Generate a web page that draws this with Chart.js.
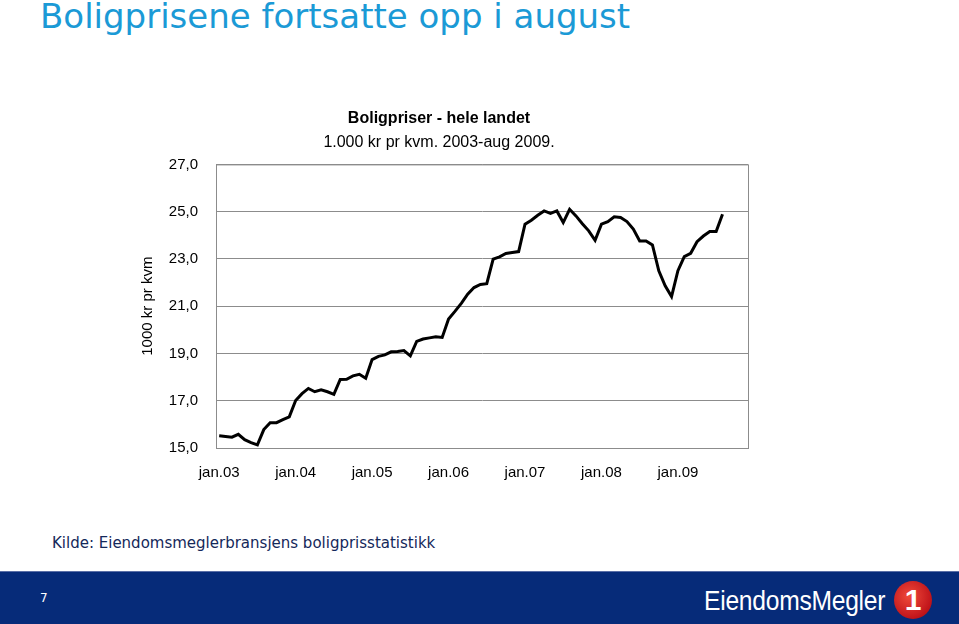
<!DOCTYPE html>
<html>
<head>
<meta charset="utf-8">
<script src="https://cdn.jsdelivr.net/npm/chart.js@4.4.1/dist/chart.umd.min.js"></script>
<style>
  html, body { margin: 0; padding: 0; background: #fff; }
  body { width: 959px; height: 624px; position: relative; overflow: hidden; }
  #heading {
    position: absolute; left: 40px; top: -4px;
    font-family: "DejaVu Sans", sans-serif; font-size: 34px; color: #1b9ad6;
  }
  #wrap { position: absolute; left: 130px; top: 100px; }
  #kilde {
    position: absolute; left: 52px; top: 534px;
    font-family: "DejaVu Sans", sans-serif; font-size: 15px; color: #14285a;
  }
  #footer {
    position: absolute; left: 0; top: 571px; width: 959px; height: 53px;
    background: #062b79; border-top: 1px solid #5a6fa6;
  }
  #pagenr {
    position: absolute; left: 40px; top: 19px;
    font-family: "DejaVu Sans", sans-serif; font-size: 12px; color: #fff;
  }
  #logo {
    position: absolute; left: 704px; top: 13px;
    font-family: "Liberation Sans", sans-serif;
    font-size: 28px; color: #fff; letter-spacing: -0.3px;
    transform: scaleX(0.88); transform-origin: left center;
  }
  #one {
    position: absolute; left: 894px; top: 9px; width: 38px; height: 38px;
    border-radius: 50%; background: radial-gradient(circle at 40% 40%, #f04a3a, #c0141a 70%, #8e0c10);
    color: #fff; font-family: "Liberation Sans", sans-serif; font-weight: bold;
    font-size: 30px; text-align: center; line-height: 38px;
  }
</style>
</head>
<body>
<div id="heading">Boligprisene fortsatte opp i august</div>
<div id="wrap"><canvas id="chartPriser" width="628" height="400"></canvas></div>
<div id="kilde">Kilde: Eiendomsmeglerbransjens boligprisstatistikk</div>
<div id="footer">
  <div id="pagenr">7</div>
  <div id="logo">EiendomsMegler</div>
  <div id="one">1</div>
</div>
<script>
var aar = ['03', '04', '05', '06', '07', '08', '09'];
var maaneder = ['jan', 'feb', 'mar', 'apr', 'mai', 'jun', 'jul', 'aug', 'sep', 'okt', 'nov', 'des'];

// 1000 kr pr kvm, jan 2003 - aug 2009
var priser = [
  15.52, 15.49, 15.46, 15.58, 15.35, 15.23, 15.13, 15.78, 16.07, 16.07, 16.20, 16.32,
  17.01, 17.30, 17.52, 17.38, 17.46, 17.38, 17.27, 17.90, 17.91, 18.05, 18.12, 17.95,
  18.74, 18.88, 18.94, 19.07, 19.08, 19.12, 18.90, 19.51, 19.61, 19.66, 19.71, 19.68,
  20.46, 20.78, 21.12, 21.51, 21.79, 21.92, 21.95, 22.99, 23.09, 23.23, 23.27, 23.31,
  24.47, 24.64, 24.85, 25.03, 24.93, 25.03, 24.54, 25.10, 24.82, 24.49, 24.19, 23.79,
  24.47, 24.58, 24.78, 24.75, 24.58, 24.26, 23.76, 23.76, 23.59, 22.50, 21.86, 21.41,
  22.50, 23.10, 23.24, 23.73, 23.97, 24.16, 24.16, 24.89
];

var yTicks = [15, 17, 19, 21, 23, 25, 27];

// kategorier: jan.03, feb.03, ...
var kategorier = [];
aar.forEach(function (a) {
  maaneder.forEach(function (m) { kategorier.push(m + '.' + a); });
});
kategorier = kategorier.slice(0, priser.length);

var aarStart = [];
kategorier.forEach(function (k, i) { if (k.indexOf('jan') === 0) aarStart.push(i); });

var gra = '#8c8c8c';
var fontAxis = { family: 'Liberation Sans, Arial, sans-serif', size: 15 };

// ramme rundt plottet (topp og høyre)
var ramme = {
  id: 'ramme',
  beforeDatasetsDraw: function (chart) {
    var a = chart.chartArea, ctx = chart.ctx;
    ctx.save();
    ctx.strokeStyle = gra;
    ctx.lineWidth = 1;
    ctx.strokeRect(a.left + 0.5, a.top + 0.5, a.right - a.left, a.bottom - a.top);
    ctx.restore();
  }
};

var ctxPriser = document.getElementById('chartPriser');

new Chart(ctxPriser, {
  type: 'line',
  data: {
    datasets: [{
      label: 'Boligpriser',
      data: priser.map(function (v, i) { return { x: i, y: v }; }),
      borderColor: '#000000',
      borderWidth: 3,
      pointRadius: 0,
      tension: 0,
      fill: false
    }]
  },
  options: {
    responsive: false,
    animation: false,
    devicePixelRatio: 1,
    layout: { padding: { left: 0, right: 10, top: 0, bottom: 0 } },
    plugins: {
      legend: { display: false },
      tooltip: { enabled: false },
      title: {
        display: true,
        text: 'Boligpriser - hele landet',
        color: '#000',
        font: { family: 'Liberation Sans, Arial, sans-serif', size: 16, weight: 'bold' },
        padding: { top: 9, bottom: 0 }
      },
      subtitle: {
        display: true,
        text: '1.000 kr pr kvm. 2003-aug 2009.',
        color: '#000',
        font: { family: 'Liberation Sans, Arial, sans-serif', size: 16 },
        padding: { top: 5, bottom: 12 }
      }
    },
    scales: {
      x: {
        type: 'linear',
        min: -0.5,
        max: 83,
        grid: { display: false },
        border: { display: true, color: gra },
        afterBuildTicks: function (s) {
          s.ticks = aarStart.map(function (v) { return { value: v }; });
        },
        afterFit: function (s) { s.height = 52; },
        ticks: {
          color: '#000',
          font: fontAxis,
          padding: 8,
          maxRotation: 0,
          autoSkip: false,
          callback: function (v) { return kategorier[v]; }
        }
      },
      y: {
        min: 15,
        max: 27,
        afterBuildTicks: function (s) {
          s.ticks = yTicks.map(function (v) { return { value: v }; });
        },
        afterFit: function (s) { s.width = 86; },
        grid: { color: gra, lineWidth: 1, drawTicks: false },
        border: { display: true, color: gra },
        ticks: {
          color: '#000',
          font: fontAxis,
          padding: 18,
          callback: function (v) { return v.toFixed(1).replace('.', ','); }
        },
        title: {
          display: true,
          text: '1000 kr pr kvm',
          color: '#000',
          font: fontAxis,
          padding: { top: 9, bottom: 0 }
        }
      }
    }
  },
  plugins: [ramme]
});
</script>
</body>
</html>
